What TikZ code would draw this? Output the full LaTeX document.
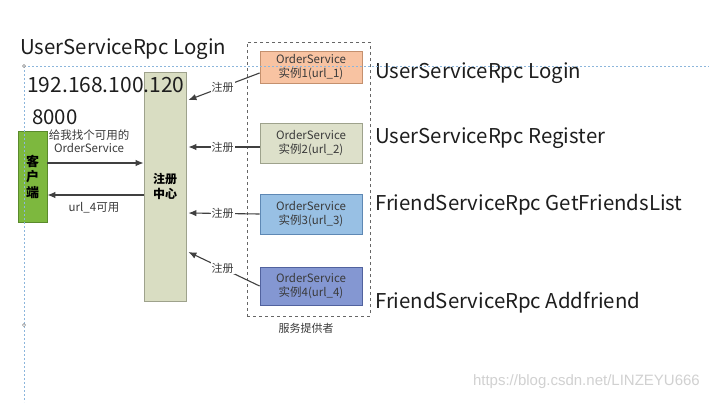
\documentclass[tikz,border=0pt]{standalone}
\usepackage{fontspec}
\setmainfont{Noto Sans CJK SC}
\newfontfamily\wmfont{Liberation Sans}
\usetikzlibrary{arrows.meta}
\definecolor{cliG}{HTML}{7DB83E}
\definecolor{cliD}{HTML}{5A8A2C}
\definecolor{regF}{HTML}{D9DDC2}
\definecolor{regD}{HTML}{9EA28C}
\definecolor{s1F}{HTML}{F8C3A2}
\definecolor{s1D}{HTML}{C4906E}
\definecolor{s2F}{HTML}{DDE0CA}
\definecolor{s2D}{HTML}{9EA28C}
\definecolor{s3F}{HTML}{98C0E4}
\definecolor{s3D}{HTML}{5E88B4}
\definecolor{s4F}{HTML}{8497D2}
\definecolor{s4D}{HTML}{51629E}
\definecolor{arrC}{HTML}{404040}
\definecolor{dotB}{HTML}{8CB6DC}
\definecolor{txt}{HTML}{1E1E1E}
\definecolor{stxt}{HTML}{3A3A3A}
\tikzset{
  box/.style={draw, line width=0.8pt, rectangle, inner sep=0pt},
  svc/.style={box, minimum width=102pt, align=center, font=\fontsize{11.5}{14}\selectfont, text=stxt},
  arr/.style={draw=arrC, line width=1.1pt, -{Latex[length=8pt,width=6.5pt]}},
  lbl/.style={font=\fontsize{11}{14}\selectfont, text=stxt, inner sep=1pt},
  big/.style={font=\fontsize{20.4}{24}\selectfont, text=txt, anchor=west, inner sep=0pt},
  dotline/.style={draw=dotB, line width=0.9pt, dash pattern=on 2pt off 2pt},
}
\begin{document}
\begin{tikzpicture}[x=1pt,y=-1pt]
\useasboundingbox[fill=white] (0,0) rectangle (709,402);

% provider container
\node[draw=gray!80!black, dashed, line width=0.8pt, minimum width=123pt, minimum height=274pt, inner sep=0pt] (prov) at (308.5,179) {};
\node[lbl] (provl) at (306,328) {服务提供者};

% client and registry
\node[box, fill=cliG, draw=cliD, minimum width=29pt, minimum height=91pt, align=center,
      font=\fontsize{13}{15.5}\selectfont\bfseries] (cli) at (32.5,176.5) {客\\户\\端};
\node[box, fill=regF, draw=regD, minimum width=42pt, minimum height=229pt, align=center,
      font=\fontsize{12}{15}\selectfont\bfseries] (reg) at (165,186.5) {注册\\中心};

% services
\node[svc, fill=s1F, draw=s1D, minimum height=32pt] (s1) at (311,67) {OrderService\\实例1(url\_1)};
\node[svc, fill=s2F, draw=s2D, minimum height=40pt] (s2) at (311,143) {OrderService\\实例2(url\_2)};
\node[svc, fill=s3F, draw=s3D, minimum height=40pt] (s3) at (311,214) {OrderService\\实例3(url\_3)};
\node[svc, fill=s4F, draw=s4D, minimum height=38pt] (s4) at (311,286) {OrderService\\实例4(url\_4)};

% registration arrows
\draw[arr] ([yshift=-6pt]s1.west) -- node[lbl, fill=white, pos=0.52] {注册} ([xshift=2pt,yshift=86.5pt]reg.east);
\draw[arr] ([yshift=-4pt]s2.west) -- node[lbl, fill=white, pos=0.52] {注册} ([xshift=2pt,yshift=39.5pt]reg.east);
\draw[arr] (s3.west) -- node[lbl, fill=white, pos=0.52] {注册} ([xshift=2pt,yshift=-26.5pt]reg.east);
\draw[arr] (s4.west) -- node[lbl, fill=white, pos=0.52] {注册} ([xshift=2pt,yshift=-65.5pt]reg.east);

% client arrows
\draw[arr] ([yshift=13.5pt]cli.east) -- ([yshift=23.5pt]reg.west);
\draw[arr] ([yshift=-8.5pt]reg.west) -- ([yshift=-18.5pt]cli.east);
\node[lbl, align=center, font=\fontsize{11.5}{13}\selectfont] (q) at (89,141) {给我找个可用的\\OrderService};
\node[lbl, font=\fontsize{11.5}{14}\selectfont] (a) at (94,208) {url\_4可用};

% big texts
\node[big] (t0) at (20,49) {UserServiceRpc Login};
\node[big, font=\fontsize{21}{24}\selectfont] (ip) at (27,85) {192.168.100.120};
\node[big] (port) at (32,117) {8000};
\node[big] (r1) at (375,73) {UserServiceRpc Login};
\node[big] (r2) at (375,138) {UserServiceRpc Register};
\node[big] (r3) at (375,205) {FriendServiceRpc GetFriendsList};
\node[big] (r4) at (375,303) {FriendServiceRpc Addfriend};

% dotted guide lines
\coordinate (g0) at (24,66);
\coordinate (g1) at (709,66);
\coordinate (g2) at (24,402);
\coordinate (h2) at (24,325);
\draw[dotline] (g0) -- (g1);
\draw[dotline] (g0) -- (g2);
\draw[gray, line width=0.5pt, fill=white] (g0) circle (1.6pt);
\draw[gray, line width=0.5pt, fill=white] (h2) circle (1.6pt);

% watermark
\node[font=\wmfont\fontsize{15}{17}\selectfont, text=black!18, anchor=east, inner sep=0pt] (wm) at (700,382) {https://blog.csdn.net/LINZEYU666};
\end{tikzpicture}
\end{document}
